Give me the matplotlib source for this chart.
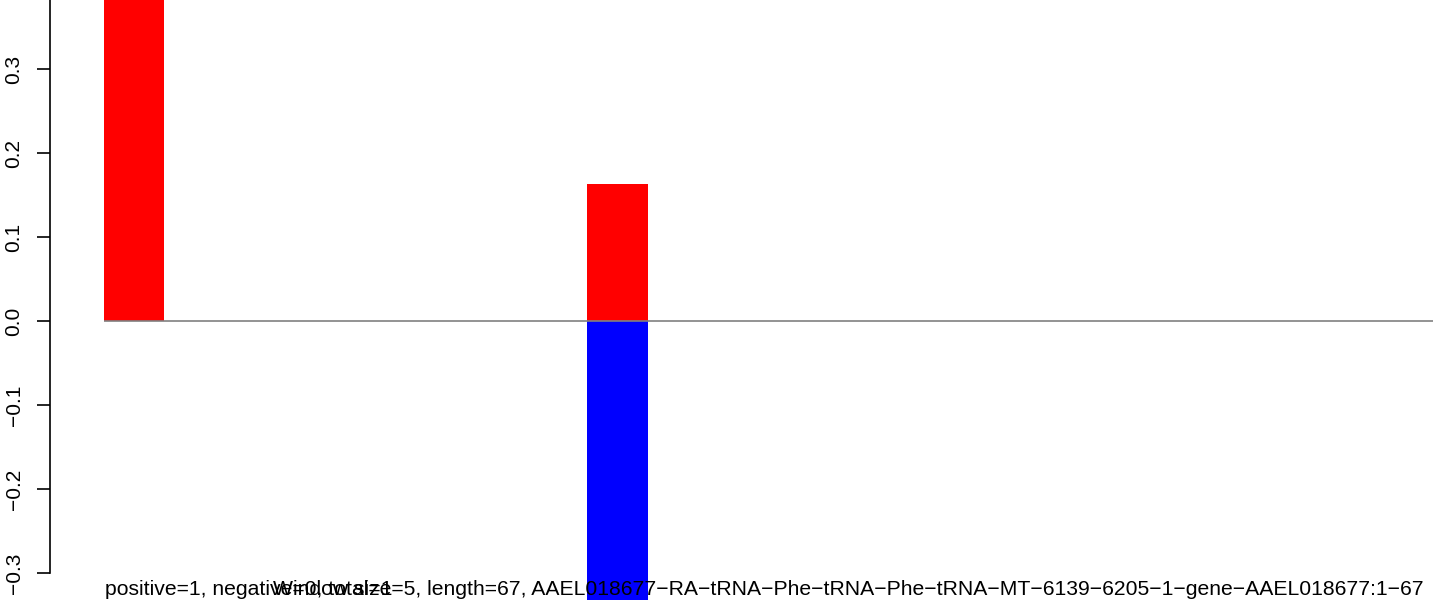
import matplotlib
matplotlib.use("Agg")
import matplotlib.pyplot as plt

# window bins (bar index) and their values
pos_bins = [0, 8]
pos_vals = [0.45, 0.163]
neg_bins = [8]
neg_vals = [-0.36]
n_bins = 22
yticks = [-0.3, -0.2, -0.1, 0.0, 0.1, 0.2, 0.3, 0.4]
summary = "positive=1, negative=0, total=1"
title = ("Window size=5, length=67, AAEL018677\u2212RA\u2212tRNA\u2212Phe\u2212tRNA\u2212Phe"
         "\u2212tRNA\u2212MT\u22126139\u22126205\u22121\u2212gene\u2212AAEL018677:1\u221267")

plt.rcParams["font.family"] = ["Liberation Sans", "DejaVu Sans"]
W, H = 1433, 600
fig = plt.figure(figsize=(W / 100, H / 100), dpi=100)
ax = fig.add_axes([50 / W, 0, 1 - 50 / W, 1])

ax.bar(pos_bins, pos_vals, width=1, align="edge", color="#ff0000", lw=0)
ax.bar(neg_bins, neg_vals, width=1, align="edge", color="#0000ff", lw=0)
ax.hlines(0, 0, n_bins, color="#808080", lw=1.2)

ax.set_xticks([])
ax.set_yticks(yticks)
ax.set_yticklabels([f"{t:.1f}".replace("-", "\u2212") for t in yticks],
                   rotation=90, va="center", fontsize=15)
ax.set_xlim(-54 / 60.4, n_bins)
ax.set_ylim(-(600 - 321) / 840, 321 / 840)
ax.tick_params(axis="y", length=9.5, width=1.2, pad=9.5)
for s in ["top", "right", "bottom"]:
    ax.spines[s].set_visible(False)
ax.spines["left"].set_linewidth(1.2)
ax.spines["left"].set_bounds(-0.3, 0.4)
ax.patch.set_alpha(0)

fig.text(105 / W, 5 / H, summary, fontsize=15.2, va="baseline", ha="left")
fig.text(848 / W, 5 / H, title, fontsize=15.2, va="baseline", ha="center")

fig.savefig("out.png", dpi=100)
